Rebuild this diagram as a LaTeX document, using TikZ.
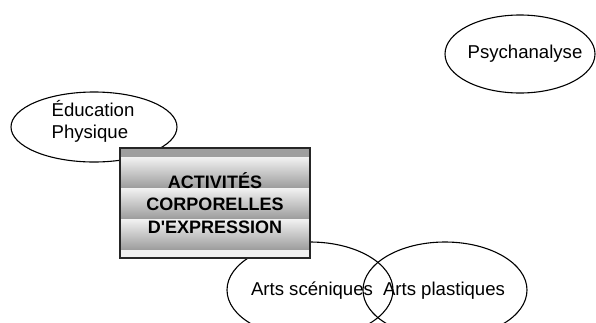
\documentclass[tikz,border=0pt]{standalone}
\usepackage{fontspec}
\setmainfont{Liberation Sans}
\tikzset{
  idea/.style={line width=1.1pt},
  ideatext/.style={inner sep=0pt,font=\fontsize{18.6}{22}\selectfont},
  titlebox/.style={rectangle,draw=black!85,line width=1.6pt,minimum width=190pt,minimum height=110pt,
    inner sep=0pt,align=center,font=\bfseries\fontsize{18}{22.5}\selectfont}
}
\begin{document}
\begin{tikzpicture}[x=1pt,y=-1pt]
  \useasboundingbox (0,0) rectangle (596,322);
  \clip (0,0) rectangle (596,322);
  \draw[idea] (94,127) ellipse [x radius=83, y radius=35];
  \draw[idea] (520,54) ellipse [x radius=75, y radius=39];
  \draw[idea] (310,290) ellipse [x radius=83, y radius=48];
  \draw[idea] (445,290) ellipse [x radius=82, y radius=48];
  \node[ideatext,align=left] (edu) at (93,121) {Éducation\\Physique};
  \node[ideatext] (psy) at (525,54) {Psychanalyse};
  \node[ideatext] (scen) at (312,291) {Arts scéniques};
  \node[ideatext] (plast) at (444,291) {Arts plastiques};
  % bands of the title box
  \node[titlebox,path picture={
      \fill[gray!75] (path picture bounding box.north west) rectangle ++(190,9);
      \foreach \k in {0,1,2}
        \shade[top color=gray!10,bottom color=gray!78] ([yshift=-9pt-31pt*\k]path picture bounding box.north west) rectangle ++(190,31);
      \fill[gray!12] ([yshift=-102pt]path picture bounding box.north west) rectangle ++(190,8);
    }] (acp) at (215,203) {ACTIVITÉS\\CORPORELLES\\D\textquotesingle EXPRESSION};
\end{tikzpicture}
\end{document}
